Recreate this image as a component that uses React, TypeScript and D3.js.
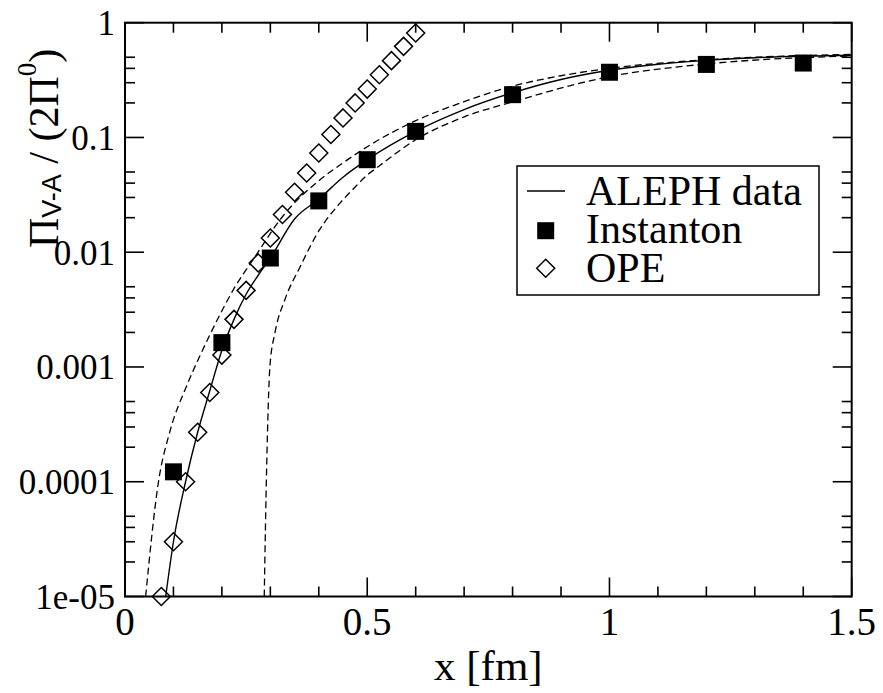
import React from "react";
import * as d3 from "d3";

const W = 883;
const H = 693;

// ALEPH data (solid)
const alephX = [0.084, 0.1, 0.125, 0.15, 0.175, 0.2, 0.225, 0.25, 0.275, 0.3, 0.35, 0.4, 0.45, 0.5, 0.6, 0.7, 0.8, 0.9, 1.0, 1.1, 1.2, 1.3, 1.4, 1.5];
const alephY = [1e-5, 3.0e-5, 1.0e-4, 2.7e-4, 6.2e-4, 1.4e-3, 2.6e-3, 4.3e-3, 6.3e-3, 8.9e-3, 0.0195, 0.029, 0.045, 0.064, 0.113, 0.175, 0.245, 0.32, 0.385, 0.435, 0.47, 0.495, 0.51, 0.52];

// ALEPH error band upper (dashed)
const upperX = [0.0426, 0.0688, 0.0928, 0.127, 0.155, 0.189, 0.2235, 0.265, 0.327, 0.4, 0.45, 0.5, 0.6, 0.7, 0.8, 0.9, 1.0, 1.2, 1.5];
const upperY = [1e-5, 9.8e-5, 2.75e-4, 6.8e-4, 1.26e-3, 2.5e-3, 4.7e-3, 8.7e-3, 0.0209, 0.042, 0.06, 0.083, 0.14, 0.205, 0.28, 0.345, 0.4, 0.475, 0.53];

// ALEPH error band lower (dashed)
const lowerX = [0.2874, 0.2924, 0.2992, 0.3095, 0.33, 0.361, 0.402, 0.44, 0.471, 0.5, 0.526, 0.6, 0.7, 0.8, 1.0, 1.2, 1.5];
const lowerY = [1e-5, 1.35e-4, 1.02e-3, 1.98e-3, 3.86e-3, 7.4e-3, 0.0158, 0.0257, 0.0355, 0.047, 0.057, 0.0955, 0.151, 0.204, 0.339, 0.437, 0.513];

// Instanton (filled squares)
const instX = [0.1, 0.2, 0.3, 0.4, 0.5, 0.6, 0.8, 1.0, 1.2, 1.4];
const instY = [1.22e-4, 1.63e-3, 8.9e-3, 0.028, 0.064, 0.113, 0.236, 0.37, 0.433, 0.445];

// OPE (open diamonds)
const opeX = [0.075, 0.1, 0.125, 0.15, 0.175, 0.2, 0.225, 0.25, 0.275, 0.3, 0.325, 0.35, 0.375, 0.4, 0.425, 0.45, 0.475, 0.5, 0.525, 0.55, 0.575, 0.6];
const opeY = [1.0e-5, 3.0e-5, 1.0e-4, 2.7e-4, 6.0e-4, 1.27e-3, 2.6e-3, 4.65e-3, 8.07e-3, 0.0133, 0.0213, 0.0333, 0.049, 0.0733, 0.106, 0.148, 0.2, 0.264, 0.352, 0.467, 0.622, 0.813];

const xTickLabels = ["0", "0.5", "1", "1.5"];
const xTickVals = [0, 0.5, 1, 1.5];
const yTickLabels = ["1e-05", "0.0001", "0.001", "0.01", "0.1", "1"];
const yTickVals = [1e-5, 1e-4, 1e-3, 1e-2, 1e-1, 1];

const legendLabels = ["ALEPH data", "Instanton", "OPE"];

const SERIF = "'Liberation Serif', 'Times New Roman', Times, serif";
const SANS = "'Liberation Sans', Arial, Helvetica, sans-serif";

export default function App() {
  const left = 125, right = 851.7, top = 22.7, bottom = 596.5;
  const x = d3.scaleLinear().domain([0, 1.5]).range([left, right]);
  const y = d3.scaleLog().domain([1e-5, 1]).range([bottom, top]);

  const mk = (xs: number[], ys: number[]) =>
    d3
      .line<number>()
      .x((_, i) => x(xs[i]))
      .y((_, i) => y(ys[i]))
      .curve(d3.curveMonotoneX)(xs as any) as string;

  const xMinor = d3.range(0, 16).map((i) => i / 10).filter((v) => Math.abs(v * 2 - Math.round(v * 2)) > 1e-6);
  const yMinor: number[] = [];
  for (let e = -5; e < 0; e++) {
    [2, 3, 4, 5].forEach((m) => yMinor.push(m * Math.pow(10, e)));
  }
  const MAJ = 19, MIN = 10;

  const sq = 17;
  const dm = 9;
  const diamond = (cx: number, cy: number, r: number) =>
    `M${cx},${cy - r}L${cx + r},${cy}L${cx},${cy + r}L${cx - r},${cy}Z`;

  const legX = 517, legY = 166, legW = 302, legH = 129;
  const rowBase = [205, 243, 282];

  return (
    <svg width={W} height={H} style={{ position: "absolute", left: 0, top: 0, background: "#fff" }}>
      <rect x={0} y={0} width={W} height={H} fill="#fff" />
      <defs>
        <clipPath id="plotclip">
          <rect x={left} y={top} width={right - left} height={bottom - top} />
        </clipPath>
      </defs>

      {/* curves */}
      <g clipPath="url(#plotclip)" fill="none" stroke="#000">
        <path d={mk(alephX, alephY)} strokeWidth={1.4} />
        <path d={mk(upperX, upperY)} strokeWidth={1.3} strokeDasharray="7,4" />
        <path d={mk(lowerX, lowerY)} strokeWidth={1.3} strokeDasharray="7,4" />
      </g>

      {/* OPE diamonds */}
      <g fill="none" stroke="#000" strokeWidth={1.5}>
        {opeX.map((v, i) => (
          <path key={"o" + i} d={diamond(x(v), y(opeY[i]), dm)} />
        ))}
      </g>
      {/* Instanton squares */}
      <g fill="#000">
        {instX.map((v, i) => (
          <rect key={"s" + i} x={x(v) - sq / 2} y={y(instY[i]) - sq / 2} width={sq} height={sq} />
        ))}
      </g>

      {/* frame */}
      <rect x={left} y={top} width={right - left} height={bottom - top} fill="none" stroke="#000" strokeWidth={2} />

      {/* ticks */}
      <g stroke="#000" strokeWidth={1.6}>
        {xTickVals.map((v, i) => (
          <g key={"xM" + i}>
            <line x1={x(v)} x2={x(v)} y1={bottom} y2={bottom - MAJ} />
            <line x1={x(v)} x2={x(v)} y1={top} y2={top + MAJ} />
          </g>
        ))}
        {xMinor.map((v, i) => (
          <g key={"xm" + i}>
            <line x1={x(v)} x2={x(v)} y1={bottom} y2={bottom - MIN} />
            <line x1={x(v)} x2={x(v)} y1={top} y2={top + MIN} />
          </g>
        ))}
        {yTickVals.map((v, i) => (
          <g key={"yM" + i}>
            <line x1={left} x2={left + MAJ} y1={y(v)} y2={y(v)} />
            <line x1={right} x2={right - MAJ} y1={y(v)} y2={y(v)} />
          </g>
        ))}
        {yMinor.map((v, i) => (
          <g key={"ym" + i}>
            <line x1={left} x2={left + MIN} y1={y(v)} y2={y(v)} />
            <line x1={right} x2={right - MIN} y1={y(v)} y2={y(v)} />
          </g>
        ))}
      </g>

      {/* tick labels */}
      <g fontFamily={SERIF} fontSize={39} textAnchor="middle" fill="#000">
        {xTickVals.map((v, i) => (
          <text key={"xl" + i} x={x(v)} y={635}>
            {xTickLabels[i]}
          </text>
        ))}
      </g>
      <g fontFamily={SERIF} fontSize={35} textAnchor="end" fill="#000">
        {yTickVals.map((v, i) => (
          <text key={"yl" + i} x={115} y={y(v) + 12.5}>
            {yTickLabels[i]}
          </text>
        ))}
      </g>

      {/* axis labels */}
      <text x={(left + right) / 2} y={680} fontFamily={SERIF} fontSize={43} textAnchor="middle">
        x [fm]
      </text>
      <text transform="translate(58,248) rotate(-90)" fontFamily={SERIF} fontSize={42}>
        <tspan>Π</tspan>
        <tspan fontFamily={SANS} fontSize={27} dy={3}>V-A</tspan>
        <tspan dy={-3}> / (2Π</tspan>
        <tspan fontSize={27} dy={-22}>0</tspan>
        <tspan dy={22}>)</tspan>
      </text>

      {/* legend */}
      <rect x={legX} y={legY} width={legW} height={legH} fill="#fff" stroke="#000" strokeWidth={1.5} />
      <line x1={527} x2={565} y1={191} y2={191} stroke="#000" strokeWidth={1.4} />
      <rect x={545.7 - sq / 2} y={230.7 - sq / 2} width={sq} height={sq} fill="#000" />
      <path d={diamond(545.7, 268.3, dm)} fill="none" stroke="#000" strokeWidth={1.5} />
      <g fontFamily={SERIF} fontSize={42} fill="#000">
        {legendLabels.map((t, i) => (
          <text key={"lg" + i} x={586} y={rowBase[i]}>
            {t}
          </text>
        ))}
      </g>
    </svg>
  );
}
